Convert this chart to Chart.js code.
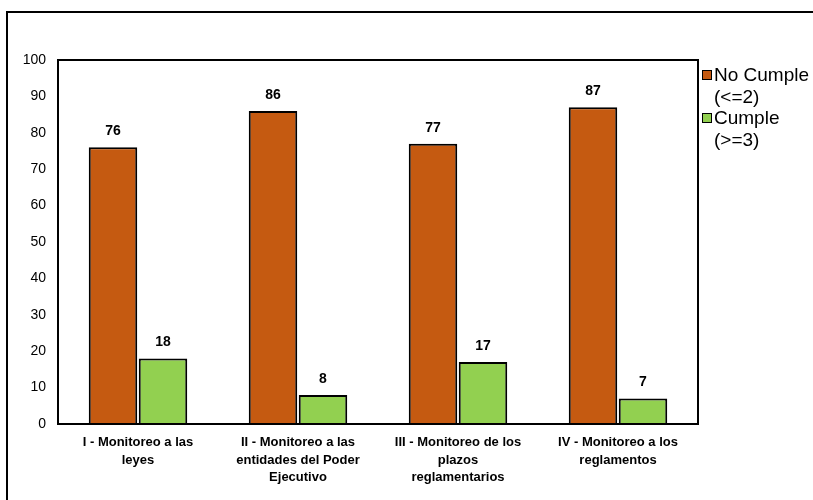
<!DOCTYPE html>
<html>
<head>
<meta charset="utf-8">
<script src="https://cdn.jsdelivr.net/npm/chart.js@4.4.1/dist/chart.umd.min.js"></script>
<style>
    body { margin: 0; background: #fff; overflow: hidden; }
    #frame { position: absolute; left: 6px; top: 11px; width: 900px; height: 600px; border: 2px solid #000; }
    #wrap { position: absolute; left: 0; top: 0; width: 813px; height: 500px; }
</style>
</head>
<body>
<div id="frame"></div>
<div id="wrap"><canvas id="cumplimientoChart"></canvas></div>
<script>
var categorias = [
    ['I - Monitoreo a las', 'leyes'],
    ['II - Monitoreo a las', 'entidades del Poder', 'Ejecutivo'],
    ['III - Monitoreo de los', 'plazos', 'reglamentarios'],
    ['IV - Monitoreo a los', 'reglamentos']
];
var noCumple = [76, 86, 77, 87];
var cumple = [18, 8, 17, 7];
var leyendaNoCumple = ['No Cumple', '(<=2)'];
var leyendaCumple = ['Cumple', '(>=3)'];
var yTicks = [0, 10, 20, 30, 40, 50, 60, 70, 80, 90, 100];

var sans = "'Liberation Sans', Arial, sans-serif";

// value labels above each bar
var valueLabels = {
    id: 'valueLabels',
    afterDatasetsDraw: function(chart) {
        var ctx = chart.ctx;
        ctx.save();
        ctx.font = 'bold 14px ' + sans;
        ctx.fillStyle = '#000';
        ctx.textAlign = 'center';
        ctx.textBaseline = 'bottom';
        chart.data.datasets.forEach(function(ds, i) {
            chart.getDatasetMeta(i).data.forEach(function(bar, j) {
                ctx.fillText(ds.data[j], bar.x, bar.y - 9);
            });
        });
        ctx.restore();
    }
};

// box around the plot area
var plotBorder = {
    id: 'plotBorder',
    afterDraw: function(chart) {
        var a = chart.chartArea, ctx = chart.ctx;
        ctx.save();
        ctx.strokeStyle = '#000';
        ctx.lineWidth = 2;
        ctx.strokeRect(a.left, a.top, a.right - a.left, a.bottom - a.top);
        ctx.restore();
    }
};

// legend with two-line entries, right of the plot
var sideLegend = {
    id: 'sideLegend',
    afterDraw: function(chart) {
        var ctx = chart.ctx, x = chart.chartArea.right + 4;
        var y = 75;
        ctx.save();
        ctx.font = '19px ' + sans;
        ctx.textBaseline = 'middle';
        chart.data.datasets.forEach(function(ds) {
            ctx.fillStyle = ds.backgroundColor;
            ctx.fillRect(x, y - 5, 10, 10);
            ctx.strokeStyle = '#000';
            ctx.lineWidth = 1;
            ctx.strokeRect(x + 0.5, y - 4.5, 9, 9);
            ctx.fillStyle = '#000';
            ds.legendLines.forEach(function(line, k) {
                ctx.fillText(line, x + 12, y + 1 + k * 21.5);
            });
            y += 43;
        });
        ctx.restore();
    }
};

new Chart(document.getElementById('cumplimientoChart'), {
    type: 'bar',
    data: {
        labels: categorias,
        datasets: [{
            label: leyendaNoCumple.join(' '),
            legendLines: leyendaNoCumple,
            data: noCumple,
            backgroundColor: '#C55A11',
            borderColor: '#000',
            borderWidth: 2,
            categoryPercentage: 0.625,
            barPercentage: 0.97
        }, {
            label: leyendaCumple.join(' '),
            legendLines: leyendaCumple,
            data: cumple,
            backgroundColor: '#92D050',
            borderColor: '#000',
            borderWidth: 2,
            categoryPercentage: 0.625,
            barPercentage: 0.97
        }]
    },
    options: {
        responsive: true,
        maintainAspectRatio: false,
        animation: false,
        layout: { padding: { left: 0, top: 60, right: 115, bottom: 0 } },
        plugins: { legend: { display: false }, tooltip: { enabled: false } },
        scales: {
            y: {
                min: 0,
                max: 100,
                afterFit: function(s) { s.width = 58; },
                afterBuildTicks: function(s) { s.ticks = yTicks.map(function(v) { return { value: v }; }); },
                grid: { display: false },
                border: { display: false },
                ticks: {
                    padding: 4,
                    color: '#000',
                    font: { family: sans, size: 14 }
                }
            },
            x: {
                afterFit: function(s) { s.height = 76; },
                grid: { display: false },
                border: { display: false },
                ticks: {
                    padding: 2,
                    maxRotation: 0,
                    autoSkip: false,
                    color: '#000',
                    font: { family: sans, size: 13, weight: 'bold', lineHeight: 1.35 }
                }
            }
        }
    },
    plugins: [valueLabels, plotBorder, sideLegend]
});
</script>
</body>
</html>
